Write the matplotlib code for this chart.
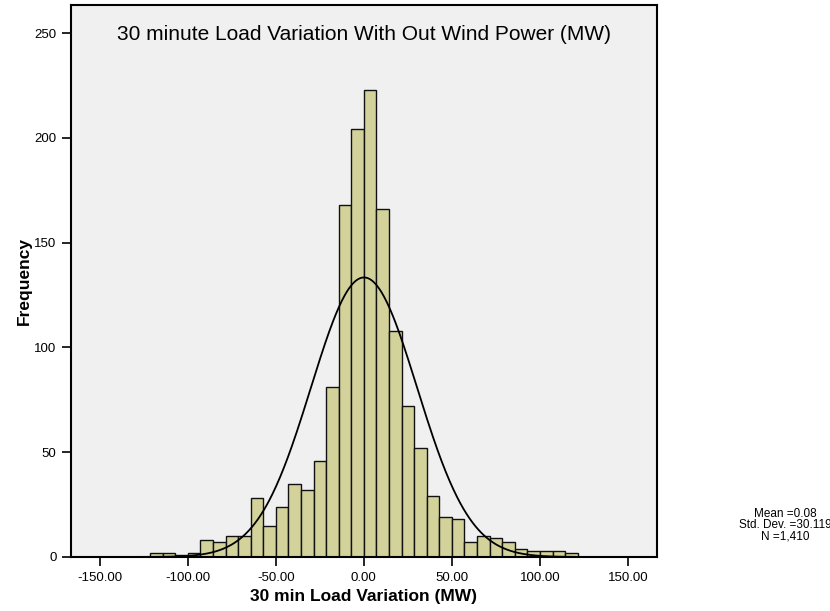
import numpy as np
import matplotlib
matplotlib.use("Agg")
import matplotlib.pyplot as plt

plt.rcParams['font.family'] = ['Liberation Sans', 'DejaVu Sans']

# Histogram data (bin width 50/7 MW, first bin starts at -17*50/7)
bin_width = 50.0 / 7.0
first_bin_index = -17
counts = [2, 2, 1, 2, 8, 7, 10, 10, 28, 15, 24, 35, 32, 46, 81, 168, 204,
          223, 166, 108, 72, 52, 29, 19, 18, 7, 10, 9, 7, 4, 3, 3, 3, 2]
mean_val = 0.08
std_val = 30.119
n_val = 1410

x_ticks = [-150, -100, -50, 0, 50, 100, 150]
x_tick_labels = ["-150.00", "-100.00", "-50.00", "0.00", "50.00", "100.00", "150.00"]
y_ticks = [0, 50, 100, 150, 200, 250]

title = "30 minute Load Variation With Out Wind Power (MW)"
xlabel = "30 min Load Variation (MW)"
ylabel = "Frequency"

fig = plt.figure(figsize=(8.3, 6.11), dpi=100)
ax = fig.add_axes([0.0852, 0.0884, 0.7064, 0.9034])
ax.set_facecolor('#F0F0F0')

edges = (np.arange(len(counts)) + first_bin_index) * bin_width
ax.bar(edges, counts, width=bin_width, align='edge', color='#D3D29B',
       edgecolor='#111111', linewidth=1.0, zorder=2)

xs = np.linspace(-166.5, 166.5, 600)
pdf = n_val * bin_width / (std_val * np.sqrt(2 * np.pi)) * np.exp(-0.5 * ((xs - mean_val) / std_val) ** 2)
ax.plot(xs, pdf, color='black', linewidth=1.3, zorder=3)

ax.set_xlim(-166.5, 166.5)
ax.set_ylim(0, 263.4)
ax.set_xticks(x_ticks)
ax.set_xticklabels(x_tick_labels)
ax.set_yticks(y_ticks)
ax.tick_params(axis='both', direction='out', length=6.7, width=1.2, labelsize=9.5, colors='black')
ax.tick_params(axis='x', pad=4)
for s in ax.spines.values():
    s.set_linewidth(1.5)
    s.set_color('black')

ax.text(0.5, 0.9457, title, transform=ax.transAxes, ha='center', va='center', fontsize=15)
ax.set_xlabel(xlabel, fontsize=12.5, fontweight='bold', labelpad=4)
ax.set_ylabel(ylabel, fontsize=12.5, fontweight='bold', labelpad=2)

stats = f"Mean ={mean_val:.2f}\nStd. Dev. ={std_val:.3f}\nN ={n_val:,}"
fig.text(785 / 830, 1 - 525 / 611, stats, ha='center', va='center', fontsize=8.5, linespacing=0.9)

fig.savefig("out.png", dpi=100)
